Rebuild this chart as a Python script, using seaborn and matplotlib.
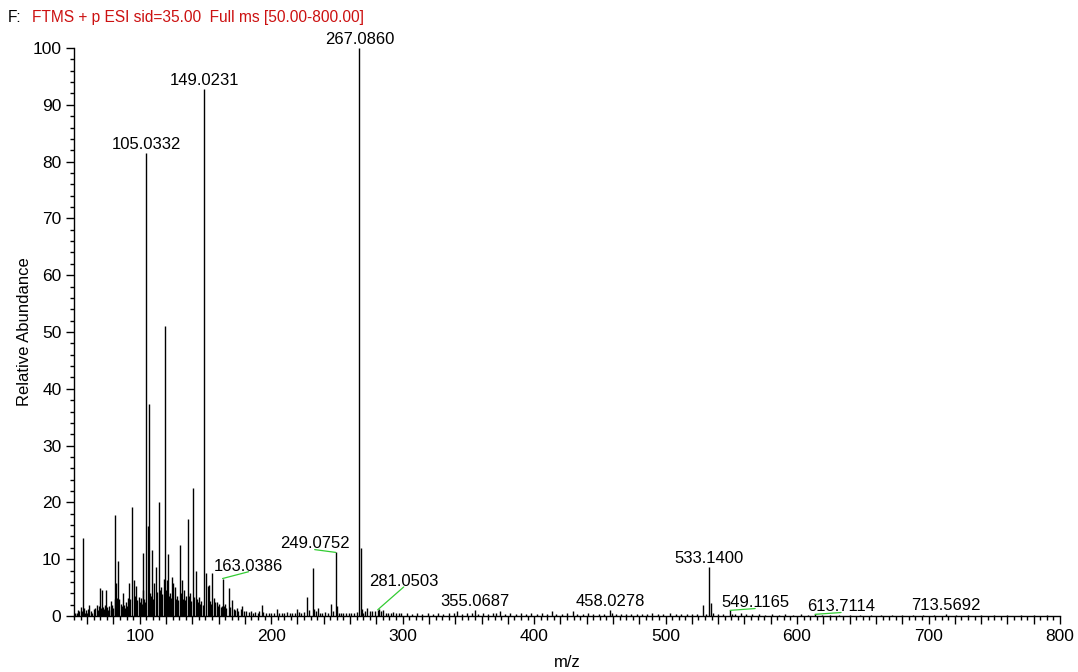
import numpy as np
import pandas as pd
import seaborn as sns
import matplotlib
matplotlib.use("Agg")
import matplotlib.pyplot as plt
from matplotlib.ticker import MultipleLocator, FuncFormatter

# Peak list (m/z, relative abundance %)
mz = [
    50.5, 51.0, 52.5, 53.0, 54.2, 55.0, 56.0, 57.07, 57.6, 58.5, 59.0, 60.0,
    61.0, 61.8, 63.0, 64.0, 65.0, 65.8, 67.3, 68.0, 69.0, 69.8, 70.5, 71.3,
    72.0, 72.8, 73.5, 74.7, 75.5, 76.2, 77.0, 78.0, 78.5, 79.3, 80.0, 80.9,
    81.5, 82.0, 82.6, 83.1, 83.8, 84.6, 85.5, 86.2, 87.1, 87.8, 88.8, 89.5,
    90.2, 91.0, 92.2, 93.0, 94.0, 95.5, 96.3, 97.0, 98.3, 99.2, 100.0, 100.7,
    101.5, 102.2, 102.9, 103.6, 104.2, 105.03, 106.04, 107.05, 107.8, 108.4,
    109.4, 110.2, 111.2, 112.4, 113.2, 114.6, 115.3, 116.5, 117.3, 118.2,
    119.05, 119.8, 120.8, 121.5, 122.3, 123.1, 124.0, 124.8, 125.7, 126.5,
    127.3, 128.1, 129.0, 130.7, 131.5, 132.3, 133.0, 134.0, 134.8, 135.6,
    137.0, 137.8, 138.5, 139.3, 140.8, 141.5, 142.6, 143.5, 144.3, 145.0,
    146.0, 147.0, 148.0, 149.02, 150.7, 151.6, 152.5, 153.3, 154.2, 155.2,
    156.2, 157.0, 158.5, 159.5, 160.5, 161.5, 162.3, 163.04, 164.0, 165.0,
    166.0, 167.9, 168.8, 170.4, 171.5, 172.5, 173.7, 175.0, 176.7, 178.0,
    179.5, 181.0, 183.0, 184.5, 186.0, 188.0, 190.0, 191.0, 192.7, 194.0,
    196.0, 198.0, 200.0, 202.0, 204.7, 206.0, 208.0, 210.0, 212.0, 214.0,
    216.0, 218.0, 219.9, 221.0, 223.0, 225.0, 227.5, 228.5, 231.5, 232.5,
    234.0, 235.5, 237.0, 239.0, 241.0, 243.0, 245.7, 247.0, 249.08, 250.0,
    251.5, 253.0, 255.0, 257.0, 259.0, 261.0, 263.0, 265.0, 267.09, 268.09,
    269.0, 270.0, 271.0, 273.0, 275.0, 277.0, 279.0, 281.05, 282.0, 283.5,
    285.0, 287.0, 289.0, 291.0, 293.0, 295.0, 297.0, 299.0, 303.0, 307.0,
    311.0, 315.0, 319.0, 323.0, 327.0, 331.0, 335.0, 339.0, 341.0, 345.0,
    349.0, 353.0, 355.07, 357.0, 361.0, 365.0, 369.0, 371.0, 374.4, 378.0,
    382.0, 386.0, 390.0, 394.0, 398.0, 402.0, 406.0, 410.0, 413.7, 417.0,
    421.0, 425.0, 429.6, 433.0, 437.0, 441.0, 445.0, 449.0, 453.0, 458.03,
    459.0, 462.0, 466.0, 470.0, 474.0, 478.0, 482.0, 486.0, 489.7, 494.0,
    498.0, 503.6, 508.0, 512.0, 516.0, 520.0, 524.0, 528.4, 531.0, 533.14,
    534.8, 536.0, 540.0, 544.0, 549.12, 550.5, 553.0, 557.0, 561.0, 566.0,
    571.0, 576.0, 581.0, 586.0, 591.0, 597.0, 603.0, 608.0, 613.71, 619.0,
    625.0, 632.0, 640.0, 648.0, 656.0, 664.0, 672.0, 680.0, 688.0, 696.0,
    704.0, 713.57, 721.0, 730.0, 740.0, 750.0, 760.0, 770.0, 780.0, 790.0,
]
abundance = [
    0.4, 0.6, 0.5, 1.0, 0.9, 1.6, 0.8, 13.7, 1.5, 0.6, 1.0, 0.5,
    1.2, 1.9, 0.9, 0.6, 1.3, 1.4, 1.9, 1.0, 1.8, 5.0, 1.5, 4.6,
    1.6, 1.2, 2.0, 4.6, 1.6, 1.0, 1.8, 1.1, 2.6, 2.0, 1.4, 17.7,
    3.0, 5.8, 3.2, 2.5, 9.7, 3.0, 2.2, 1.8, 4.0, 2.0, 1.5, 2.4,
    1.8, 3.2, 5.9, 3.0, 19.2, 6.3, 3.5, 5.3, 2.8, 3.4, 2.5, 3.1,
    2.2, 4.5, 11.1, 3.0, 2.5, 81.5, 15.8, 37.4, 4.0, 3.5,
    11.6, 3.0, 5.9, 8.7, 4.2, 20.1, 4.5, 5.1, 3.8, 6.5,
    51.0, 4.5, 6.3, 11.0, 3.5, 4.0, 3.2, 6.9, 5.8, 5.1,
    3.0, 3.6, 2.8, 12.5, 4.0, 6.3, 3.0, 4.6, 2.8, 3.5,
    17.0, 3.6, 4.0, 2.6, 22.6, 3.4, 8.0, 3.0, 2.4, 3.4,
    2.2, 2.6, 2.0, 92.8, 7.5, 5.3, 5.4, 2.6, 2.2, 7.5,
    3.1, 2.4, 2.5, 1.8, 2.2, 1.6, 1.8, 6.6, 1.8, 2.2,
    1.4, 5.0, 1.6, 2.9, 1.2, 1.0, 1.4, 0.9, 1.2, 1.7,
    0.8, 0.9, 0.7, 0.8, 0.6, 0.7, 0.6, 0.9, 1.9, 0.7,
    0.6, 0.5, 0.6, 0.5, 1.3, 0.6, 0.5, 0.6, 0.7, 0.5,
    0.6, 0.6, 1.2, 0.7, 0.5, 0.7, 3.3, 1.0, 8.4, 1.2,
    0.8, 1.5, 0.6, 0.5, 0.7, 0.6, 2.1, 0.8, 11.2, 1.7,
    0.6, 0.5, 0.6, 0.5, 0.6, 0.5, 0.6, 0.7, 100.0, 12.0,
    1.2, 0.6, 0.8, 1.5, 0.8, 0.9, 0.8, 1.1, 1.3, 0.8,
    1.0, 0.5, 0.6, 0.5, 0.7, 0.5, 0.6, 0.5, 0.5, 0.4,
    0.6, 0.4, 0.5, 0.4, 0.5, 0.4, 0.5, 0.6, 0.8, 0.4,
    0.5, 0.5, 1.1, 0.4, 0.5, 0.4, 0.5, 0.6, 0.9, 0.4,
    0.5, 0.4, 0.5, 0.4, 0.5, 0.4, 0.5, 0.4, 0.9, 0.4,
    0.4, 0.5, 0.8, 0.4, 0.4, 0.5, 0.4, 0.4, 0.4, 1.1,
    0.6, 0.4, 0.3, 0.4, 0.3, 0.4, 0.3, 0.4, 0.5, 0.3,
    0.4, 0.5, 0.3, 0.4, 0.3, 0.4, 0.3, 1.9, 0.4, 8.7,
    2.3, 0.5, 0.4, 0.3, 1.0, 0.4, 0.3, 0.6, 0.3, 0.3,
    0.3, 0.2, 0.3, 0.2, 0.3, 0.2, 0.3, 0.2, 0.3, 0.2,
    0.2, 0.2, 0.2, 0.2, 0.2, 0.2, 0.2, 0.2, 0.2, 0.2,
    0.2, 0.3, 0.2, 0.2, 0.2, 0.2, 0.2, 0.2, 0.2, 0.2,
]

# labelled peaks
label_mz = [105.03, 149.02, 163.04, 249.08, 267.09, 281.05, 355.07,
            458.03, 533.14, 549.12, 613.71, 713.57]
label_text = ["105.0332", "149.0231", "163.0386", "249.0752", "267.0860",
              "281.0503", "355.0687", "458.0278", "533.1400", "549.1165",
              "613.7114", "713.5692"]

df = pd.DataFrame({"mz": mz, "abundance": abundance})

sns.set_theme(style="ticks")
plt.rcParams["font.family"] = ["Liberation Sans", "DejaVu Sans"]

fig = plt.figure(figsize=(10.78, 6.72), dpi=100)
ax = fig.add_axes([0.0686, 0.0833, 0.9147, 0.8453])

ax.vlines(df["mz"], 0, df["abundance"], color="black", linewidth=1.0)

ax.set_xlim(50, 800)
ax.set_ylim(0, 100)
sns.despine(ax=ax)
for s in ["left", "bottom"]:
    ax.spines[s].set_linewidth(1.0)
    ax.spines[s].set_color("black")

ax.xaxis.set_major_locator(MultipleLocator(20))
ax.xaxis.set_minor_locator(MultipleLocator(5))
ax.xaxis.set_major_formatter(FuncFormatter(lambda v, p: f"{int(v)}" if v % 100 == 0 else ""))
ax.yaxis.set_major_locator(MultipleLocator(10))
ax.yaxis.set_minor_locator(MultipleLocator(2))
ax.tick_params(axis="both", which="major", length=6, width=1.0, color="black",
               labelsize=12.5, labelcolor="black", pad=3)
ax.tick_params(axis="both", which="minor", length=3, width=1.0, color="black")

ax.set_xlabel("m/z", fontsize=12, color="black", labelpad=8)
ax.set_ylabel("Relative Abundance", fontsize=12, color="black")
ax.yaxis.set_label_coords(-0.043, 0.5)

# label offsets in pixels relative to the peak top; green leader lines where moved
offsets = {
    "163.0386": (26, 5), "249.0752": (-21, 1), "281.0503": (26, 21),
    "549.1165": (25, 0), "613.7114": (26, 0),
}
peak_height = dict(zip(df["mz"], df["abundance"]))
for m, t in zip(label_mz, label_text):
    h = peak_height[m]
    if t in offsets:
        ax.annotate(t, xy=(m, h), xytext=offsets[t], textcoords="offset pixels",
                    ha="center", va="bottom", fontsize=12, color="black",
                    arrowprops=dict(arrowstyle="-", color="#33cc33", lw=0.9,
                                    shrinkA=0, shrinkB=0, patchA=None,
                                    relpos=(0.5, 0.12)))
    else:
        ax.annotate(t, xy=(m, h), xytext=(0, 1), textcoords="offset pixels",
                    ha="center", va="bottom", fontsize=12, color="black")

fig.text(0.0075, 0.974, "F:", fontsize=11.2, color="black", va="center", ha="left")
fig.text(0.0300, 0.974, "FTMS + p ESI sid=35.00  Full ms [50.00-800.00]",
         fontsize=11.2, color="#cc1111", va="center", ha="left")

fig.savefig("out.png", dpi=100)
